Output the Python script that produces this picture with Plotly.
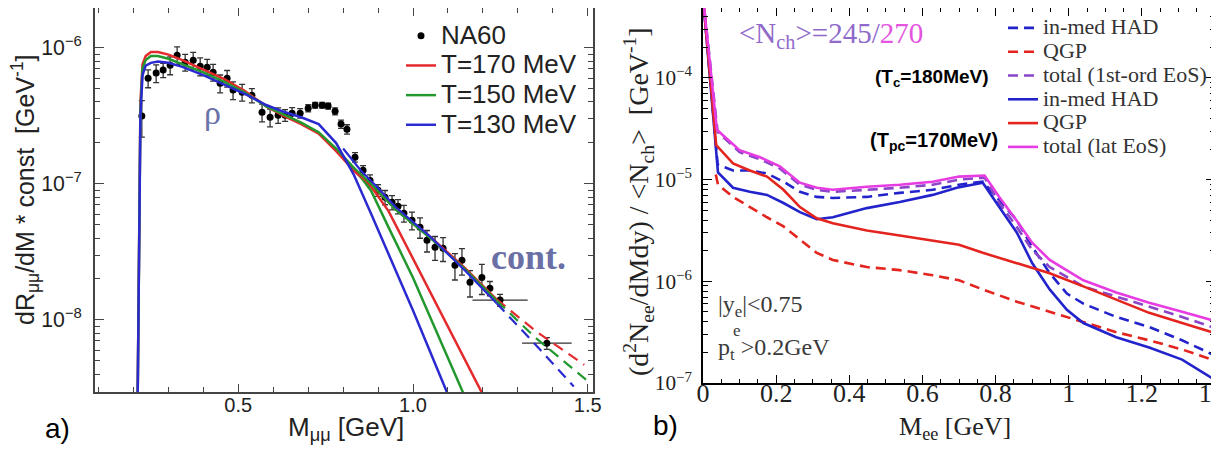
import numpy as np
import plotly.graph_objects as go

W, H = 1219, 461
OFF = 8  # page body margin in the browser

# ---------------- panel a) data ----------------
na60_m = [0.224, 0.242, 0.265, 0.285, 0.305, 0.325, 0.348, 0.371, 0.391, 0.411, 0.428, 0.448, 0.468,
          0.485, 0.511, 0.539, 0.568, 0.591, 0.614, 0.634, 0.654, 0.677, 0.700, 0.720, 0.740, 0.757,
          0.777, 0.794, 0.811, 0.834, 0.857, 0.877, 0.900, 0.920, 0.940, 0.957, 0.974, 0.997, 1.020,
          1.040, 1.063, 1.086, 1.120, 1.140, 1.163, 1.197, 1.220, 1.249, 1.383]
na60_val = [3.15e-7, 5.99e-7, 6.52e-7, 6.86e-7, 7.46e-7, 8.84e-7, 7.85e-7, 8.12e-7, 7.33e-7, 7.21e-7,
            6.63e-7, 5.49e-7, 5.98e-7, 4.89e-7, 4.72e-7, 4.48e-7, 3.36e-7, 3.09e-7, 3.20e-7, 3.20e-7,
            3.31e-7, 3.31e-7, 3.60e-7, 3.79e-7, 3.79e-7, 3.73e-7, 3.42e-7, 2.75e-7, 2.52e-7, 1.57e-7,
            1.26e-7, 1.06e-7, 8.99e-8, 7.98e-8, 7.33e-8, 6.85e-8, 6.09e-8, 5.40e-8, 4.80e-8, 3.85e-8,
            3.42e-8, 3.36e-8, 2.52e-8, 2.74e-8, 1.89e-8, 2.05e-8, 1.71e-8, 1.40e-8, 6.74e-9]
na60_err_frac = [0.30, 0.15, 0.15, 0.12, 0.15, 0.15, 0.14, 0.14, 0.15, 0.14, 0.14, 0.15, 0.14, 0.15,
                 0.14, 0.12, 0.15, 0.15, 0.13, 0.10, 0.10, 0.08, 0.06, 0.05, 0.05, 0.05, 0.06, 0.07,
                 0.08, 0.08, 0.08, 0.10, 0.10, 0.12, 0.12, 0.12, 0.14, 0.15, 0.17, 0.18, 0.20, 0.20,
                 0.22, 0.22, 0.22, 0.25, 0.12, 0.10, 0.10]
na60_xerr = [0.0] * 47 + [0.079, 0.071]

rho_m = [0.212, 0.216, 0.220, 0.226, 0.235, 0.25, 0.27, 0.30, 0.34, 0.40, 0.46, 0.52, 0.58, 0.63,
         0.68, 0.73, 0.78, 0.83, 0.88, 0.93, 1.00, 1.10, 1.20]
rho170_log = [-8.6, -7.2, -6.4, -6.12, -6.06, -6.03, -6.03, -6.05, -6.09, -6.16, -6.23, -6.32, -6.43,
              -6.50, -6.56, -6.63, -6.76, -6.90, -7.02, -7.20, -7.55, -8.05, -8.55]
rho150_log = [-8.6, -7.2, -6.45, -6.15, -6.09, -6.06, -6.06, -6.08, -6.12, -6.18, -6.25, -6.33, -6.43,
              -6.49, -6.55, -6.62, -6.74, -6.88, -7.05, -7.32, -7.69, -8.28, -8.87]
rho130_log = [-8.6, -7.2, -6.5, -6.2, -6.13, -6.11, -6.10, -6.11, -6.14, -6.20, -6.27, -6.34, -6.42,
              -6.47, -6.51, -6.56, -6.70, -6.93, -7.22, -7.52, -7.93, -8.55, -9.1]

cont170_m = [0.83, 0.88, 0.95, 1.05, 1.15, 1.24]
cont170_log = [-6.90, -7.01, -7.18, -7.39, -7.62, -7.85]
cont150_m = [0.83, 0.88, 0.95, 1.05, 1.15, 1.24]
cont150_log = [-6.88, -7.00, -7.19, -7.40, -7.63, -7.86]
cont130_m = [0.80, 0.85, 0.90, 0.95, 1.05, 1.15, 1.24]
cont130_log = [-6.74, -6.90, -7.03, -7.17, -7.39, -7.64, -7.88]
ext170_m = [1.24, 1.35, 1.49]
ext170_log = [-7.85, -8.08, -8.33]
ext150_m = [1.24, 1.35, 1.50]
ext150_log = [-7.86, -8.13, -8.45]
ext130_m = [1.24, 1.35, 1.46]
ext130_log = [-7.88, -8.18, -8.49]

# ---------------- panel b) data ----------------
tot_lat_m = [0.0, 0.038, 0.10, 0.156, 0.21, 0.265, 0.311, 0.355, 0.448, 0.538, 0.628, 0.70, 0.77,
             0.81, 0.857, 0.90, 0.948, 1.04, 1.13, 1.22, 1.31, 1.40]
tot_lat_log = [-3.2, -4.51, -4.71, -4.78, -4.87, -5.03, -5.08, -5.10, -5.07, -5.05, -5.02, -4.97,
               -4.96, -5.17, -5.40, -5.62, -5.79, -5.99, -6.11, -6.21, -6.30, -6.39]
tot_1st_m = [0.0, 0.04, 0.10, 0.156, 0.21, 0.265, 0.311, 0.355, 0.448, 0.538, 0.628, 0.70, 0.77,
             0.81, 0.857, 0.90, 0.948, 1.04, 1.13, 1.22, 1.31, 1.40]
tot_1st_log = [-3.2, -4.53, -4.73, -4.80, -4.89, -5.05, -5.10, -5.12, -5.10, -5.08, -5.05, -5.00,
               -4.98, -5.23, -5.46, -5.69, -5.86, -6.05, -6.15, -6.25, -6.35, -6.46]
had_lat_m = [0.0, 0.041, 0.082, 0.128, 0.175, 0.22, 0.265, 0.311, 0.355, 0.448, 0.538, 0.628, 0.694,
             0.765, 0.81, 0.858, 0.90, 0.948, 0.995, 1.04, 1.13, 1.22, 1.31, 1.40]
had_lat_log = [-3.2, -4.93, -5.08, -5.12, -5.15, -5.23, -5.32, -5.39, -5.37, -5.28, -5.22, -5.15,
               -5.08, -5.03, -5.27, -5.52, -5.82, -6.08, -6.28, -6.41, -6.55, -6.65, -6.77, -6.97]
had_1st_m = [0.0, 0.04, 0.082, 0.128, 0.175, 0.22, 0.265, 0.311, 0.355, 0.448, 0.538, 0.628, 0.70,
             0.765, 0.81, 0.858, 0.90, 0.948, 0.995, 1.04, 1.13, 1.22, 1.31, 1.40]
had_1st_log = [-3.2, -4.85, -4.91, -4.91, -4.94, -5.02, -5.12, -5.17, -5.18, -5.17, -5.13, -5.10,
               -5.05, -5.02, -5.20, -5.40, -5.66, -5.92, -6.12, -6.22, -6.35, -6.45, -6.58, -6.73]
qgp_lat_m = [0.0, 0.036, 0.082, 0.128, 0.175, 0.22, 0.265, 0.311, 0.355, 0.448, 0.538, 0.628, 0.70,
             0.765, 0.858, 0.948, 1.04, 1.13, 1.22, 1.31, 1.40]
qgp_lat_log = [-3.2, -4.66, -4.84, -4.91, -4.97, -5.10, -5.27, -5.38, -5.43, -5.50, -5.55, -5.60,
               -5.64, -5.72, -5.82, -5.92, -6.05, -6.18, -6.31, -6.41, -6.51]
qgp_1st_m = [0.035, 0.041, 0.082, 0.128, 0.175, 0.22, 0.265, 0.311, 0.355, 0.448, 0.538, 0.628, 0.70,
             0.765, 0.858, 0.948, 1.04, 1.13, 1.22, 1.31, 1.40]
qgp_1st_log = [-4.95, -5.05, -5.17, -5.27, -5.37, -5.46, -5.59, -5.72, -5.79, -5.86, -5.89, -5.94,
               -5.99, -6.08, -6.20, -6.30, -6.40, -6.50, -6.58, -6.67, -6.78]

b_xticks = [0, 0.2, 0.4, 0.6, 0.8, 1.0, 1.2, 1.4]
b_xticktext = ["0", "0.2", "0.4", "0.6", "0.8", "1", "1.2", "1.4"]

# ---------------- styling ----------------
SANS = "Liberation Sans, Arial, sans-serif"
SERIF = "Liberation Serif, Times New Roman, serif"
RED_A, GREEN_A, BLUE_A = "#e42a2c", "#23982e", "#2a2ad0"
BLUE_B, RED_B, MAG_B, PUR_B = "#2323cc", "#e3241f", "#e63ce2", "#8a45c8"


def px(x):
    return min(max((x - OFF) / W, 0.0), 1.0)


def py(y):
    return min(max(1 - (y - OFF) / H, 0.0), 1.0)


def lin(v):
    return list(10 ** np.array(v))


fig = go.Figure()

# panel a
fig.add_trace(go.Scatter(
    x=na60_m, y=na60_val, mode="markers", name="<span style='font-size:26px'>NA60</span>",
    marker=dict(color="black", size=7, symbol="circle"),
    error_y=dict(type="data", array=[v * f for v, f in zip(na60_val, na60_err_frac)],
                 color="#333", thickness=1.3, width=3),
    error_x=dict(type="data", array=na60_xerr, color="#333", thickness=1.3, width=0),
    xaxis="x", yaxis="y", legend="legend"))

for name, logs, col in [("T=170 MeV", rho170_log, RED_A), ("T=150 MeV", rho150_log, GREEN_A),
                        ("T=130 MeV", rho130_log, BLUE_A)]:
    fig.add_trace(go.Scatter(x=rho_m, y=lin(logs), mode="lines",
                             name=f"<span style='font-size:26px'>{name}</span>",
                             line=dict(color=col, width=2.5), xaxis="x", yaxis="y", legend="legend"))

for m, logs, col in [(cont170_m, cont170_log, RED_A), (cont150_m, cont150_log, GREEN_A),
                     (cont130_m, cont130_log, BLUE_A)]:
    fig.add_trace(go.Scatter(x=m, y=lin(logs), mode="lines", showlegend=False,
                             line=dict(color=col, width=2.2), xaxis="x", yaxis="y"))
for m, logs, col in [(ext170_m, ext170_log, RED_A), (ext150_m, ext150_log, GREEN_A),
                     (ext130_m, ext130_log, BLUE_A)]:
    fig.add_trace(go.Scatter(x=m, y=lin(logs), mode="lines", showlegend=False,
                             line=dict(color=col, width=2.2, dash="11px,7px"), xaxis="x", yaxis="y"))

# panel b
b_traces = [
    ("in-med HAD", had_1st_m, had_1st_log, BLUE_B, "10px,6px"),
    ("QGP", qgp_1st_m, qgp_1st_log, RED_B, "10px,6px"),
    ("total (1st-ord EoS)", tot_1st_m, tot_1st_log, PUR_B, "10px,6px"),
    ("in-med HAD", had_lat_m, had_lat_log, BLUE_B, "solid"),
    ("QGP", qgp_lat_m, qgp_lat_log, RED_B, "solid"),
    ("total (lat EoS)", tot_lat_m, tot_lat_log, MAG_B, "solid"),
]
for name, m, logs, col, dash in b_traces:
    fig.add_trace(go.Scatter(x=m, y=lin(logs), mode="lines",
                             name=f"<span style='font-size:22px'>{name}</span>",
                             line=dict(color=col, width=2.6, dash=dash),
                             xaxis="x2", yaxis="y2", legend="legend2"))

axis_common = dict(showline=True, mirror="allticks", ticks="inside", showgrid=False, zeroline=False,
                   automargin=False)

fig.update_layout(
    width=W, height=H, margin=dict(l=0, r=0, t=0, b=0, autoexpand=False),
    paper_bgcolor="white", plot_bgcolor="white",
    xaxis=dict(domain=[px(95), px(593)], range=[0.09, 1.515], dtick=0.5, tick0=0, tickformat=".1f",
               linecolor="#444", linewidth=1.5, ticklen=8, tickcolor="#444",
               tickfont=dict(family=SANS, size=20, color="#222"), ticklabelstandoff=-6,
               minor=dict(ticks="inside", dtick=0.1, tick0=0, ticklen=5, tickcolor="#444"),
               anchor="y", **axis_common),
    yaxis=dict(domain=[py(392), py(8)], type="log", range=[-8.53, -5.707], dtick=1,
               exponentformat="power", linecolor="#444", linewidth=1.5, ticklen=9, tickcolor="#444",
               tickfont=dict(family=SANS, size=17, color="#222"), ticklabelstandoff=8,
               minor=dict(ticks="inside", dtick="D1", ticklen=5, tickcolor="#444"),
               anchor="x", **axis_common),
    xaxis2=dict(domain=[px(703), px(1215)], range=[0, 1.4], tickmode="array", tickvals=b_xticks,
                ticktext=b_xticktext, ticklabeloverflow="allow",
                linecolor="black", linewidth=1.5, ticklen=8, tickcolor="black",
                tickfont=dict(family=SERIF, size=26, color="#222"), ticklabelstandoff=-14,
                minor=dict(ticks="inside", dtick=0.05, tick0=0, ticklen=4, tickcolor="black"),
                anchor="y2", **axis_common),
    yaxis2=dict(domain=[py(383), py(8)], type="log", range=[-7, -3.312], dtick=1,
                exponentformat="power", linecolor="black", linewidth=1.5, ticklen=9, tickcolor="black",
                tickfont=dict(family=SERIF, size=17, color="#222"), ticklabelstandoff=6,
                minor=dict(ticks="inside", dtick="D1", ticklen=5, tickcolor="black"),
                anchor="x2", **axis_common),
    legend=dict(x=px(401), y=py(16), xanchor="left", yanchor="top", bgcolor="rgba(0,0,0,0)",
                font=dict(family=SANS, size=20.5, color="#222"), itemwidth=30),
    legend2=dict(x=px(1003), y=py(11), xanchor="left", yanchor="top", bgcolor="rgba(0,0,0,0)",
                 font=dict(family=SERIF, size=16, color="#333"), itemwidth=30),
)

ann = [
    dict(x=px(213), y=py(113), text="ρ", font=dict(family=SERIF, size=34, color="#6a72aa")),
    dict(x=px(528), y=py(257), text="<b>cont.</b>", font=dict(family=SERIF, size=36, color="#6a6fa5")),
    dict(x=px(57), y=py(428), text="a)", font=dict(family=SANS, size=28, color="black")),
    dict(x=px(665), y=py(425), text="b)", font=dict(family=SANS, size=28, color="black")),
    dict(x=px(346), y=py(428), text="M<sub>μμ</sub> [GeV]", font=dict(family=SANS, size=26, color="#222")),
    dict(x=px(25), y=py(190), text="dR<sub>μμ</sub>/dM * const  [GeV<sup>-1</sup>]", textangle=-90,
         font=dict(family=SANS, size=25, color="#222")),
    dict(x=px(955), y=py(428), text="M<sub>ee</sub> [GeV]", font=dict(family=SERIF, size=26, color="#222")),
    dict(x=px(638), y=py(202),
         text="(d<sup>2</sup>N<sub>ee</sub>/dMdy) / &lt;N<sub>ch</sub>&gt;  [GeV<sup>-1</sup>]",
         textangle=-90, font=dict(family=SERIF, size=28, color="#222")),
    dict(x=px(737), y=py(35), xanchor="left",
         text="<span style='color:#8f6acb'>&lt;N<sub>ch</sub>&gt;=245/</span><span style='color:#e354e0'>270</span>",
         font=dict(family=SERIF, size=29)),
    dict(x=px(873), y=py(78), xanchor="left", text="<b>(T<sub>c</sub>=180MeV)</b>",
         font=dict(family=SANS, size=19, color="black")),
    dict(x=px(868), y=py(141), xanchor="left", text="<b>(T<sub>pc</sub>=170MeV)</b>",
         font=dict(family=SANS, size=20, color="black")),
    dict(x=px(716), y=py(306), xanchor="left", text="|y<sub>e</sub>|&lt;0.75",
         font=dict(family=SERIF, size=24, color="#3a3a3a")),
    dict(x=px(716), y=py(349), xanchor="left", text="p<sub>t</sub> &gt;0.2GeV",
         font=dict(family=SERIF, size=24, color="#3a3a3a")),
    dict(x=px(737), y=py(330), text="e", font=dict(family=SERIF, size=17, color="#3a3a3a")),
]
for a in ann:
    a.setdefault("xanchor", "center")
    a.setdefault("yanchor", "middle")
    fig.add_annotation(xref="paper", yref="paper", showarrow=False, **a)

fig.write_html("out.html")
